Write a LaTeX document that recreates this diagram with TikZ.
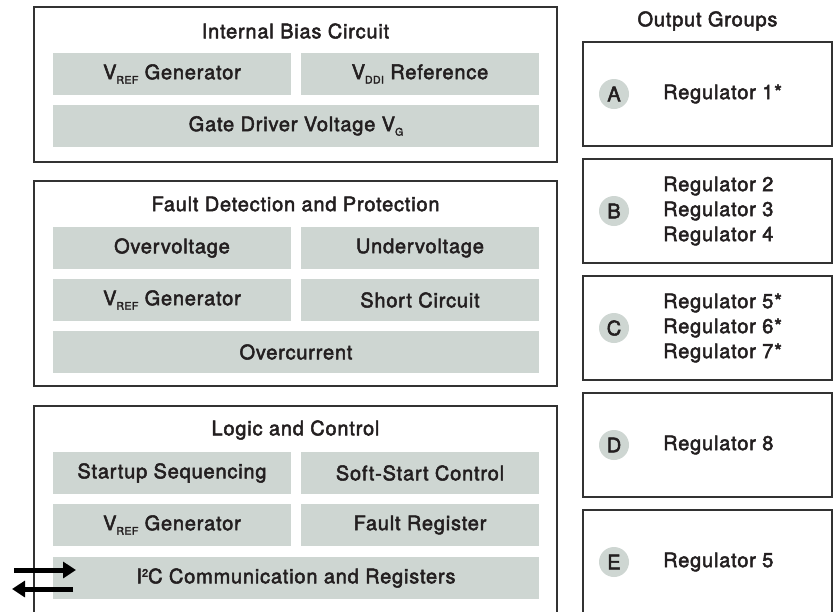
\documentclass[tikz,border=0pt]{standalone}
\usepackage{fontspec}
\setmainfont{TeX Gyre Heros}[LetterSpace=4]
\newfontfamily\medfont{TeX Gyre Heros}[LetterSpace=4, FakeBold=2.5]
\usetikzlibrary{arrows.meta}
\definecolor{fillg}{RGB}{206,214,210}
\definecolor{edge}{RGB}{50,50,50}
\definecolor{txt}{RGB}{35,31,32}
\newcommand\subs[1]{\raisebox{-4.5pt}{\fontsize{10.5}{10}\selectfont #1}}
\newcommand\sups[1]{\raisebox{6.5pt}{\fontsize{11}{11}\selectfont #1}}
\begin{document}
\begin{tikzpicture}[x=1pt,y=-1pt,
  every node/.style={text=txt, font=\medfont\fontsize{20}{25}\selectfont, inner sep=0pt},
  group/.style={draw=edge, line width=1.5pt, fill=white, rectangle, minimum width=523pt},
  outbox/.style={draw=edge, line width=1.5pt, fill=white, rectangle, minimum width=249pt, minimum height=104pt},
  block/.style={fill=fillg, minimum height=42pt},
  half/.style={block, minimum width=238pt},
  full/.style={block, minimum width=486pt},
  badge/.style={circle, fill=fillg, minimum size=30pt},
  reglabel/.style={anchor=west, align=left},
  flow/.style={line width=5pt, draw=black, -{Triangle[length=13pt,width=16pt]}}
]
\useasboundingbox (0,0) rectangle (835,611);

% Internal Bias Circuit
\node[group, minimum height=155pt] (bias) at (295.5,84.5) {};
\node (biasT) at (295.5,31) {Internal Bias Circuit};
\node[half] (vref1) at (172,74) {V\subs{REF} Generator};
\node[half] (vddi) at (420,74) {V\subs{DDI} Reference};
\node[full] (gate) at (296,126) {Gate Driver Voltage V\subs{G}};

% Fault Detection and Protection
\node[group, minimum height=205pt] (fault) at (295.5,283.5) {};
\node (faultT) at (295.5,204) {Fault Detection and Protection};
\node[half] (ov) at (172,248) {Overvoltage};
\node[half] (uv) at (420,248) {Undervoltage};
\node[half] (vref2) at (172,300) {V\subs{REF} Generator};
\node[half] (sc) at (420,300) {Short Circuit};
\node[full] (oc) at (296,352) {Overcurrent};

% Logic and Control
\node[group, minimum height=207pt] (logic) at (295.5,509.5) {};
\node (logicT) at (295.5,430) {Logic and Control};
\node[half] (seq) at (172,473) {Startup Sequencing};
\node[half] (soft) at (420,473) {Soft-Start Control};
\node[half] (vref3) at (172,525) {V\subs{REF} Generator};
\node[half] (freg) at (420,525) {Fault Register};
\node[full] (i2c) at (296,578) {I\sups{2}C Communication and Registers};

% Output groups
\node (outT) at (707.5,21) {Output Groups};
\node[outbox] (gA) at (707.5,94) {};
\node[outbox] (gB) at (707.5,211) {};
\node[outbox] (gC) at (707.5,328) {};
\node[outbox] (gD) at (707.5,445) {};
\node[outbox] (gE) at (707.5,562) {};

\node[badge] (bA) at (614,94) {A};
\node[badge] (bB) at (614,211) {B};
\node[badge] (bC) at (614,328) {C};
\node[badge] (bD) at (614,445) {D};
\node[badge] (bE) at (614,562) {E};

\node[reglabel] (rA) at (663,94) {Regulator 1*};
\node[reglabel] (rB) at (663,211) {Regulator 2\\Regulator 3\\Regulator 4};
\node[reglabel] (rC) at (663,328) {Regulator 5*\\Regulator 6*\\Regulator 7*};
\node[reglabel] (rD) at (663,445) {Regulator 8};
\node[reglabel] (rE) at (663,562) {Regulator 5};

% I2C arrows
\coordinate (inS) at (14,570);
\coordinate (inE) at (76,570);
\coordinate (outS) at (73,589);
\coordinate (outE) at (12,589);
\draw[flow] (inS) -- (inE);
\draw[flow] (outS) -- (outE);
\end{tikzpicture}
\end{document}
